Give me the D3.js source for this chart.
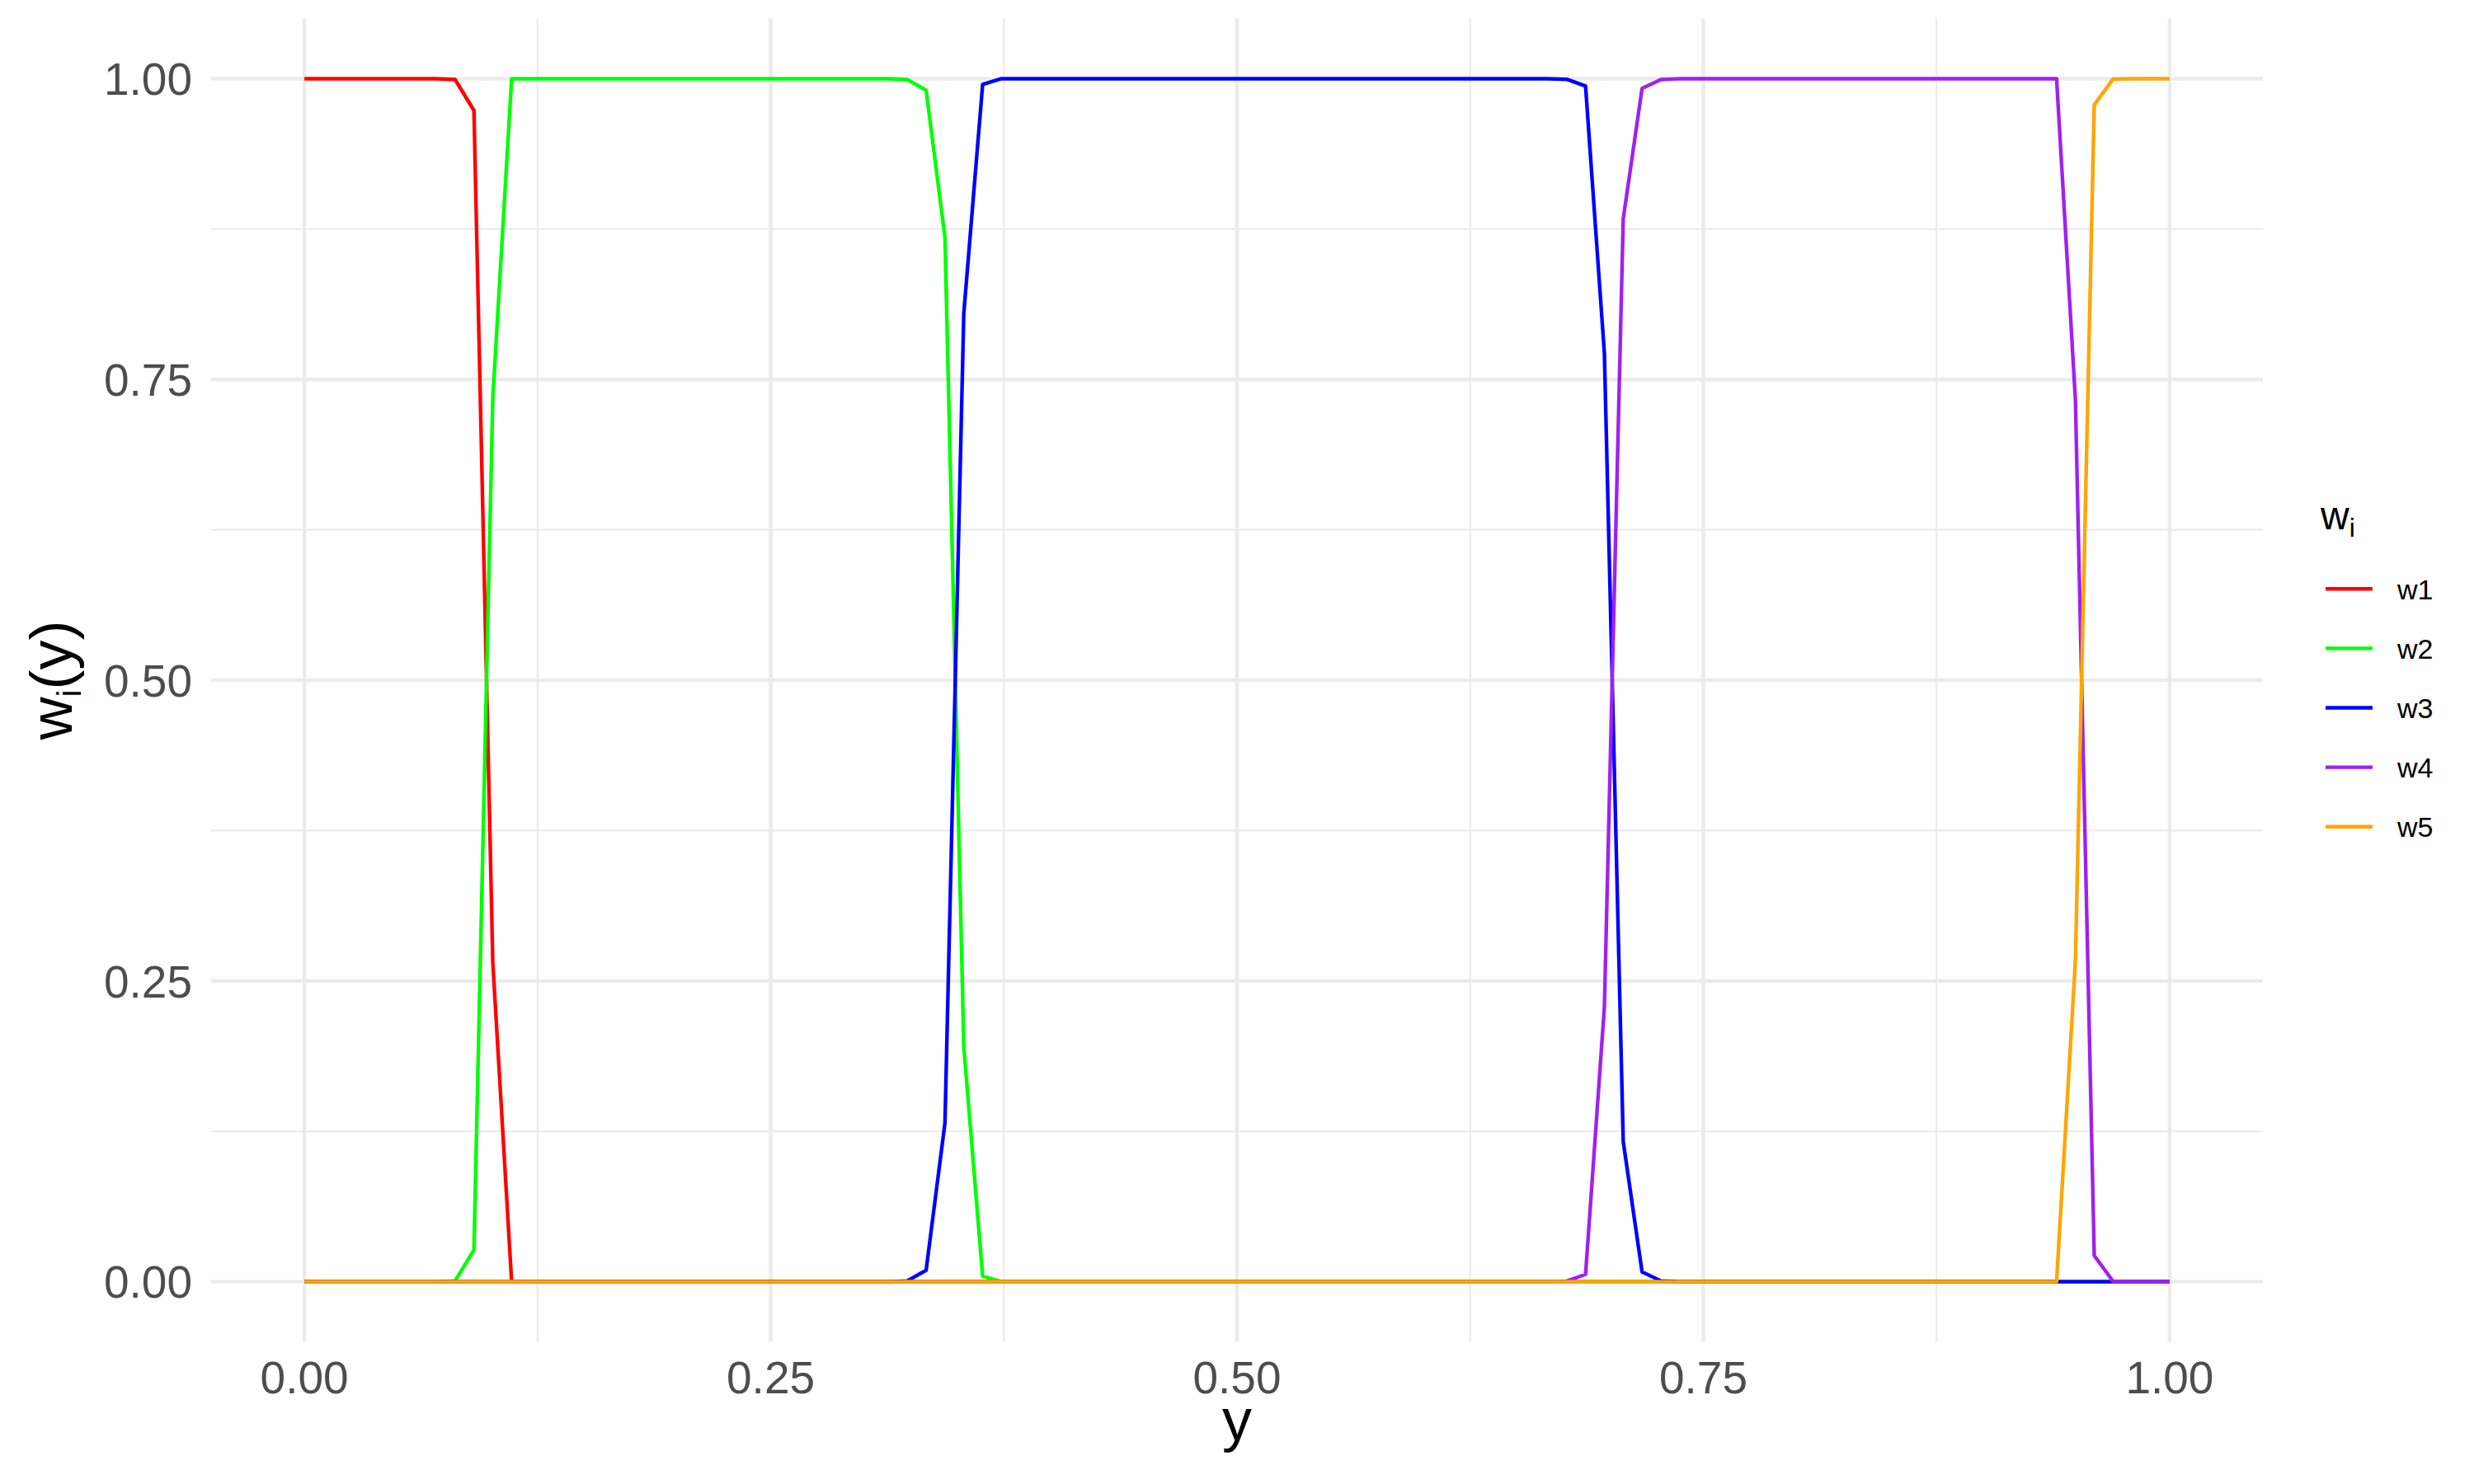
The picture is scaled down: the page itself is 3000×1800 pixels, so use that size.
<!DOCTYPE html>
<html>
<head>
<meta charset="utf-8">
<script src="https://cdn.jsdelivr.net/npm/d3@7"></script>
<style>
  html, body { margin: 0; padding: 0; background: #ffffff; }
  svg { display: block; font-family: "Liberation Sans", Arial, Helvetica, sans-serif; }
</style>
</head>
<body>
<svg id="chart" width="3000" height="1800"></svg>
<script>
// ---- data (100 evenly spaced points of y from 0 to 1) ----
const seriesNames = ["w1", "w2", "w3", "w4", "w5"];
const seriesColors = ["#FF0000", "#00FF00", "#0000FF", "#A020F0", "#FFA500"];
const xTicks = [0, 0.25, 0.5, 0.75, 1];
const yTicks = [0, 0.25, 0.5, 0.75, 1];
const xMinor = [0.125, 0.375, 0.625, 0.875];
const yMinor = [0.125, 0.375, 0.625, 0.875];
const tickLabelsX = ["0.00", "0.25", "0.50", "0.75", "1.00"];
const tickLabelsY = ["0.00", "0.25", "0.50", "0.75", "1.00"];

const w1 = [
  1,1,1,1,1,1,1,1,0.9993,0.9736,
  0.2656,0,0,0,0,0,0,0,0,0,
  0,0,0,0,0,0,0,0,0,0,
  0,0,0,0,0,0,0,0,0,0,
  0,0,0,0,0,0,0,0,0,0,
  0,0,0,0,0,0,0,0,0,0,
  0,0,0,0,0,0,0,0,0,0,
  0,0,0,0,0,0,0,0,0,0,
  0,0,0,0,0,0,0,0,0,0,
  0,0,0,0,0,0,0,0,0,0
];
const w2 = [
  0,0,0,0,0,0,0,0,0.0007,0.0264,
  0.7344,1,1,1,1,1,1,1,1,1,
  1,1,1,1,1,1,1,1,1,1,
  1,1,0.9993,0.9905,0.8680,0.1950,0.0047,0,0,0,
  0,0,0,0,0,0,0,0,0,0,
  0,0,0,0,0,0,0,0,0,0,
  0,0,0,0,0,0,0,0,0,0,
  0,0,0,0,0,0,0,0,0,0,
  0,0,0,0,0,0,0,0,0,0,
  0,0,0,0,0,0,0,0,0,0
];
const w3 = [
  0,0,0,0,0,0,0,0,0,0,
  0,0,0,0,0,0,0,0,0,0,
  0,0,0,0,0,0,0,0,0,0,
  0,0,0.0007,0.0095,0.1320,0.8050,0.9953,1,1,1,
  1,1,1,1,1,1,1,1,1,1,
  1,1,1,1,1,1,1,1,1,1,
  1,1,1,1,1,1,1,0.9995,0.9939,0.7717,
  0.1165,0.0081,0.0007,0,0,0,0,0,0,0,
  0,0,0,0,0,0,0,0,0,0,
  0,0,0,0,0,0,0,0,0,0
];
const w4 = [
  0,0,0,0,0,0,0,0,0,0,
  0,0,0,0,0,0,0,0,0,0,
  0,0,0,0,0,0,0,0,0,0,
  0,0,0,0,0,0,0,0,0,0,
  0,0,0,0,0,0,0,0,0,0,
  0,0,0,0,0,0,0,0,0,0,
  0,0,0,0,0,0,0,0.0005,0.0061,0.2283,
  0.8835,0.9919,0.9993,1,1,1,1,1,1,1,
  1,1,1,1,1,1,1,1,1,1,
  1,1,1,1,0.7331,0.0217,0.0003,0,0,0
];
const w5 = [
  0,0,0,0,0,0,0,0,0,0,
  0,0,0,0,0,0,0,0,0,0,
  0,0,0,0,0,0,0,0,0,0,
  0,0,0,0,0,0,0,0,0,0,
  0,0,0,0,0,0,0,0,0,0,
  0,0,0,0,0,0,0,0,0,0,
  0,0,0,0,0,0,0,0,0,0,
  0,0,0,0,0,0,0,0,0,0,
  0,0,0,0,0,0,0,0,0,0,
  0,0,0,0,0.2669,0.9783,0.9997,1,1,1
];
const seriesValues = [w1, w2, w3, w4, w5];
const yGrid = d3.range(100).map(i => i / 99);

// ---- layout ----
const svg = d3.select("#chart");
const panel = { left: 256, right: 2744, top: 22.5, bottom: 1627.6 };
const x = d3.scaleLinear().domain([-0.05, 1.05]).range([panel.left, panel.right]);
const y = d3.scaleLinear().domain([-0.05, 1.05]).range([panel.bottom, panel.top]);

svg.append("rect").attr("width", 3000).attr("height", 1800).attr("fill", "#ffffff");

const grid = svg.append("g");
// minor grid
grid.selectAll("line.ymin").data(yMinor).enter().append("line")
  .attr("x1", panel.left).attr("x2", panel.right)
  .attr("y1", d => y(d)).attr("y2", d => y(d))
  .attr("stroke", "#EBEBEB").attr("stroke-width", 2.2);
grid.selectAll("line.xmin").data(xMinor).enter().append("line")
  .attr("y1", panel.top).attr("y2", panel.bottom)
  .attr("x1", d => x(d)).attr("x2", d => x(d))
  .attr("stroke", "#EBEBEB").attr("stroke-width", 2.2);
// major grid
grid.selectAll("line.ymaj").data(yTicks).enter().append("line")
  .attr("x1", panel.left).attr("x2", panel.right)
  .attr("y1", d => y(d)).attr("y2", d => y(d))
  .attr("stroke", "#EBEBEB").attr("stroke-width", 4.4);
grid.selectAll("line.xmaj").data(xTicks).enter().append("line")
  .attr("y1", panel.top).attr("y2", panel.bottom)
  .attr("x1", d => x(d)).attr("x2", d => x(d))
  .attr("stroke", "#EBEBEB").attr("stroke-width", 4.4);

// tick labels
svg.append("g").selectAll("text").data(xTicks).enter().append("text")
  .attr("x", d => x(d)).attr("y", 1690)
  .attr("text-anchor", "middle")
  .attr("font-size", 55).attr("fill", "#4D4D4D")
  .text((d, i) => tickLabelsX[i]);
svg.append("g").selectAll("text").data(yTicks).enter().append("text")
  .attr("x", 233).attr("y", d => y(d)).attr("dy", "0.36em")
  .attr("text-anchor", "end")
  .attr("font-size", 55).attr("fill", "#4D4D4D")
  .text((d, i) => tickLabelsY[i]);

// lines
const line = d3.line().x((d, i) => x(yGrid[i])).y(d => y(d));
svg.append("g").selectAll("path").data(seriesValues).enter().append("path")
  .attr("d", d => line(d))
  .attr("fill", "none")
  .attr("stroke", (d, i) => seriesColors[i])
  .attr("stroke-width", 4.4)
  .attr("stroke-linejoin", "round");

// axis titles
svg.append("text").attr("x", (panel.left + panel.right) / 2).attr("y", 1747)
  .attr("text-anchor", "middle").attr("font-size", 72).attr("fill", "#000")
  .text("y");

const yt = svg.append("text")
  .attr("transform", `translate(87, ${(y(0) + y(1)) / 2}) rotate(-90)`)
  .attr("text-anchor", "middle").attr("font-size", 72).attr("fill", "#000");
yt.append("tspan").text("w");
yt.append("tspan").attr("font-size", 40).attr("dy", 11).text("i");
yt.append("tspan").attr("dy", -11).text("(y)");

// legend
const lt = svg.append("text").attr("x", 2814).attr("y", 642)
  .attr("font-size", 48).attr("fill", "#000");
lt.append("tspan").text("w");
lt.append("tspan").attr("font-size", 32).attr("dy", 9).text("i");

const legendY0 = 714.3, legendStep = 72.1;
const lg = svg.append("g").selectAll("g").data(seriesNames).enter().append("g");
lg.append("line")
  .attr("x1", 2820).attr("x2", 2877)
  .attr("y1", (d, i) => legendY0 + i * legendStep)
  .attr("y2", (d, i) => legendY0 + i * legendStep)
  .attr("stroke", (d, i) => seriesColors[i]).attr("stroke-width", 4.4);
lg.append("text")
  .attr("x", 2907).attr("y", (d, i) => legendY0 + i * legendStep).attr("dy", "0.36em")
  .attr("font-size", 34).attr("fill", "#000")
  .text(d => d);
</script>
</body>
</html>
